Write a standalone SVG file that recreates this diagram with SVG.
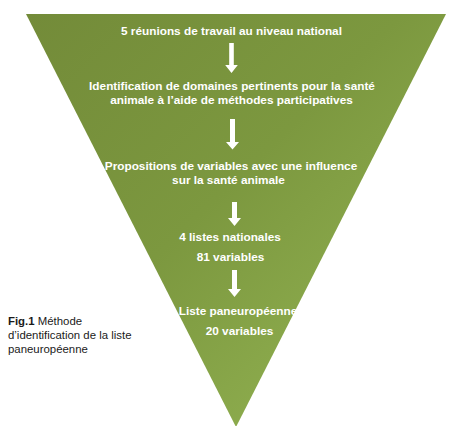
<svg xmlns="http://www.w3.org/2000/svg" width="452" height="426" viewBox="0 0 452 426">
<style>
.t{font-family:"Liberation Sans",Arial,sans-serif;font-weight:bold;font-size:11.8px;fill:#ffffff;text-anchor:middle}
.c{font-family:"Liberation Sans",Arial,sans-serif;font-size:11.4px;fill:#1a1a1a}
.a{fill:#ffffff}
</style>
<defs>
<linearGradient id="g" x1="0" y1="0" x2="1" y2="1">
<stop offset="0" stop-color="#738b39"/>
<stop offset="0.45" stop-color="#7c983f"/>
<stop offset="1" stop-color="#97b856"/>
</linearGradient>
</defs>
<g id="funnel"><polygon points="26,14 446,14 236,427" fill="url(#g)"/></g>
<g id="connectors">
<path class="a" d="M229.2,43 h4.6 v22 h4 l-6.3,8 l-6.3,-8 h4 z"/>
<path class="a" d="M230,119 h5 v23 h4 l-6.5,7.5 l-6.5,-7.5 h4 z"/>
<path class="a" d="M232,202 h5 v16 h4 l-6.5,8 l-6.5,-8 h4 z"/>
<path class="a" d="M232,270 h5 v19 h4 l-6.5,8 l-6.5,-8 h4 z"/>
</g>
<g id="n1"><text class="t" x="231.5" y="35">5 réunions de travail au niveau national</text></g>
<g id="n2"><text class="t" x="232" y="90">Identification de domaines pertinents pour la santé</text><text class="t" x="231.5" y="103.5">animale à l’aide de méthodes participatives</text></g>
<g id="n3"><text class="t" x="231" y="170">Propositions de variables avec une influence</text><text class="t" x="228.5" y="184">sur  la santé animale</text></g>
<g id="n4"><text class="t" x="230" y="241">4 listes nationales</text><text class="t" x="230.5" y="261">81 variables</text></g>
<g id="n5"><text class="t" x="238" y="315">Liste paneuropéenne</text><text class="t" x="239.5" y="335">20 variables</text></g>
<g id="caption"><text class="c" x="8" y="325"><tspan font-weight="bold">Fig.1</tspan> Méthode</text><text class="c" x="8" y="339">d’identification de la liste</text><text class="c" x="8" y="353">paneuropéenne</text></g>
</svg>
